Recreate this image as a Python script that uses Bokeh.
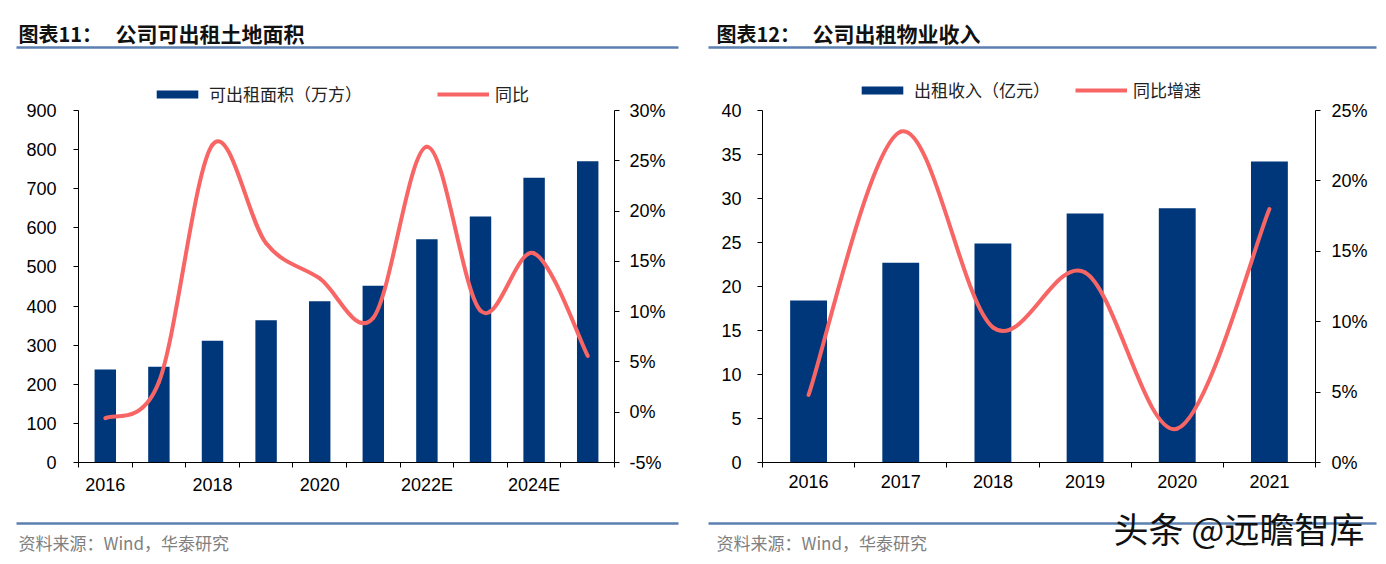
from bokeh.plotting import figure
from bokeh.models import (Range1d, LinearAxis, FixedTicker, PrintfTickFormatter,
                          Legend, LegendItem)
from bokeh.core.properties import value
from bokeh.layouts import row, column
from bokeh.embed import file_html
from bokeh.resources import INLINE

# ---------------- data ----------------
area_years = ["2016", "2017", "2018", "2019", "2020", "2021", "2022E", "2023E", "2024E", "2025E"]
area_shown = ["2016", "", "2018", "", "2020", "", "2022E", "", "2024E", ""]
area_values = [238, 245, 311, 364, 412, 452, 571, 629, 728, 770]      # 万方
area_yoy = [-0.6, 3.0, 26.6, 16.8, 13.3, 9.4, 26.4, 10.1, 15.8, 5.6]   # %
area_left_ticks = [0, 100, 200, 300, 400, 500, 600, 700, 800, 900]
area_right_ticks = [-5, 0, 5, 10, 15, 20, 25, 30]

rent_years = ["2016", "2017", "2018", "2019", "2020", "2021"]
rent_values = [18.4, 22.7, 24.9, 28.3, 28.9, 34.2]                     # 亿元
rent_yoy = [4.8, 23.5, 9.6, 13.5, 2.4, 18.0]                           # %
rent_left_ticks = [0, 5, 10, 15, 20, 25, 30, 35, 40]
rent_right_ticks = [0, 5, 10, 15, 20, 25]

titles_prefix = ["图表11：", "图表12："]
titles_main = ["公司可出租土地面积", "公司出租物业收入"]
source_text = "资料来源：Wind，华泰研究"
watermark = "头条 @远瞻智库"

BAR = "#00377A"
LINE = "#F86565"
RULE = "#5B7FB0"
CJK = "Noto Sans CJK SC"
LAT = "Liberation Sans"

W, H = 1386, 564
HEAD_H, FOOT_H = 56, 66
FRAME_TOP, AXIS_TOP, FRAME_BOTTOM = 70, 110, 462


def smooth(xs, ys):
    n = len(xs)
    out = {k: [] for k in ("x0", "y0", "x1", "y1", "cx0", "cy0", "cx1", "cy1")}
    for i in range(n - 1):
        a = max(i - 1, 0)
        d = min(i + 2, n - 1)
        out["x0"].append(xs[i]); out["y0"].append(ys[i])
        out["x1"].append(xs[i + 1]); out["y1"].append(ys[i + 1])
        out["cx0"].append(xs[i] + (xs[i + 1] - xs[a]) / 6)
        out["cy0"].append(ys[i] + (ys[i + 1] - ys[a]) / 6)
        out["cx1"].append(xs[i + 1] - (xs[d] - xs[i]) / 6)
        out["cy1"].append(ys[i + 1] - (ys[d] - ys[i]) / 6)
    return out


def strip(height, y_top):
    p = figure(width=W, height=height, x_range=Range1d(0, W),
               y_range=Range1d(y_top + height, y_top),
               x_axis_location=None, y_axis_location=None, min_border=0,
               output_backend="svg", toolbar_location=None)
    p.outline_line_color = None
    p.grid.visible = False
    return p


def panel(width, bl, br, cats, shown, vals, yoy, lticks, rticks, lstand, rstand,
          bar_name, line_name, frame_left, leg_bar_x, leg_line_x, leg_y):
    n = len(cats)
    idx = list(range(n))
    grow = (FRAME_BOTTOM - FRAME_TOP) / (FRAME_BOTTOM - AXIS_TOP)
    l_end = lticks[0] + (lticks[-1] - lticks[0]) * grow
    r_end = rticks[0] + (rticks[-1] - rticks[0]) * grow
    p = figure(width=width, height=H - HEAD_H - FOOT_H,
               x_range=Range1d(-0.5, n - 0.5), y_range=Range1d(lticks[0], l_end),
               output_backend="svg", toolbar_location=None,
               min_border_left=bl, min_border_right=br,
               min_border_top=FRAME_TOP - HEAD_H,
               min_border_bottom=(H - FOOT_H) - FRAME_BOTTOM)
    p.outline_line_color = None
    p.grid.visible = False
    p.extra_y_ranges = {"pct": Range1d(rticks[0], r_end)}

    xa = p.xaxis[0]
    xa.ticker = FixedTicker(ticks=idx, minor_ticks=[i - 0.5 for i in range(n + 1)])
    xa.major_label_overrides = {i: s for i, s in zip(idx, shown)}
    xa.major_tick_out = 0
    xa.major_tick_in = 0
    xa.minor_tick_out = 5
    xa.minor_tick_in = 0
    xa.major_label_standoff = 7

    ya = p.yaxis[0]
    ya.ticker = FixedTicker(ticks=lticks)
    ya.bounds = (lticks[0], lticks[-1])
    ya.major_tick_out = 5
    ya.major_tick_in = 0
    ya.minor_tick_out = 0
    ya.minor_tick_in = 0
    ya.major_label_standoff = lstand

    ra = LinearAxis(y_range_name="pct", ticker=FixedTicker(ticks=rticks),
                    formatter=PrintfTickFormatter(format="%d%%"),
                    bounds=(rticks[0], rticks[-1]))
    ra.major_tick_out = 5
    ra.major_tick_in = 0
    ra.minor_tick_out = 0
    ra.minor_tick_in = 0
    ra.major_label_standoff = rstand
    p.add_layout(ra, "right")

    for ax in (xa, ya, ra):
        ax.axis_line_color = "black"
        ax.major_tick_line_color = "black"
        ax.minor_tick_line_color = "black"
        ax.major_label_text_font = LAT
        ax.major_label_text_font_size = "18px"
        ax.major_label_text_color = "black"

    bars = p.vbar(x=idx, top=vals, width=0.4, fill_color=BAR, line_color=None)
    p.bezier(line_color=LINE, line_width=4, line_cap="round",
             y_range_name="pct", **smooth(idx, yoy))
    # one-point line: draws nothing itself, only supplies the legend swatch
    proxy = p.line(x=idx[:1], y=yoy[:1], line_color=LINE, line_width=4,
                   y_range_name="pct")

    for item, x in ((LegendItem(label=bar_name, renderers=[bars]), leg_bar_x),
                    (LegendItem(label=line_name, renderers=[proxy]), leg_line_x)):
        lg = Legend(items=[item], location=(x - frame_left, FRAME_BOTTOM - leg_y - 10),
                    orientation="horizontal",
                    glyph_width=52, glyph_height=10, label_standoff=6,
                    label_text_font=CJK, label_text_font_size="17px",
                    label_text_color="#222222", padding=0, margin=0, spacing=0,
                    border_line_color=None, background_fill_alpha=0)
        p.add_layout(lg, "center")
    return p


# header: titles and rules (page pixel coordinates)
head = strip(HEAD_H, 0)
head.text(x=[18, 716], y=[32.5, 32.5], text=titles_prefix, text_font=value(CJK),
          text_font_size="20px", text_font_style="bold", text_color="#111111",
          text_baseline="middle")
head.text(x=[115, 812], y=[32.5, 32.5], text=titles_main, text_font=value(CJK),
          text_font_size="21px", text_font_style="bold", text_color="#111111",
          text_baseline="middle")
head.segment(x0=[16, 708], y0=[47, 47], x1=[678, 1376], y1=[47, 47],
             line_color=RULE, line_width=2.5)

p1 = panel(698, 78, 84, area_years, area_shown, area_values, area_yoy,
           area_left_ticks, area_right_ticks, 17, 10,
           "可出租面积（万方）", "同比", 78, 151, 437, 96)
p2 = panel(W - 698, 64, 71, rent_years, rent_years, rent_values, rent_yoy,
           rent_left_ticks, rent_right_ticks, 16, 11,
           "出租收入（亿元）", "同比增速", 698 + 64, 856, 1075, 92)

# footer: rules, sources, watermark
foot = strip(FOOT_H, H - FOOT_H)
foot.segment(x0=[16, 708], y0=[523, 523], x1=[678, 1376], y1=[523, 523],
             line_color=RULE, line_width=2.5)
foot.text(x=[18, 716], y=[541.5, 541.5], text=[source_text, source_text],
          text_font=value(CJK), text_font_size="17px", text_color="#808080",
          text_baseline="middle")
foot.text(x=[1113], y=[527], text=[watermark], text_font=value(CJK),
          text_font_size="35px", text_color="#111111", text_baseline="middle")

layout = column(head, row(p1, p2), foot)
open("out.html", "w").write(file_html(layout, INLINE))
